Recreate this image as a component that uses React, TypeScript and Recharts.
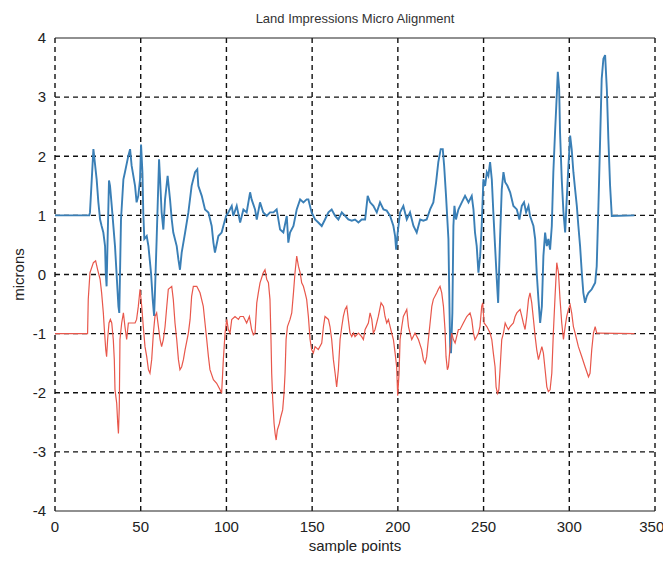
import { CartesianGrid, Label, Line, LineChart, ReferenceLine, XAxis, YAxis } from "recharts";

// sample positions and alignment offsets (microns) for the upper trace
const blueX = [
  0, 20, 20.4, 22.4, 24.3, 25.3, 26.3, 27.2, 28.2, 29.2, 29.6, 30.1, 30.7, 31.5, 32.1, 33.1, 35.0, 37.0, 37.5,
  38.5, 39.9, 40.8, 42.8, 43.8, 44.7, 46.7, 47.6, 48.6, 49.6, 50.2, 51.0, 51.5, 52.1, 53.5, 54.5, 56.0, 57.0,
  57.8, 58.3, 59.3, 60.7, 61.3, 62.2, 63.2, 64.2, 65.7, 67.1, 68.1, 69.0, 71.0, 72.0, 72.9, 73.9, 75.9, 77.8,
  79.7, 81.7, 83.0, 83.6, 85.6, 87.5, 89.5, 91.4, 92.4, 93.3, 95.3, 97.2, 98.2, 99.8, 101.1, 103.1, 104.0,
  106.0, 108.0, 109.9, 111.8, 113.8, 114.7, 116.7, 117.7, 119.6, 121.5, 123.5, 125.4, 127.4, 129.3, 131.3,
  133.2, 135.2, 136.1, 137.1, 139.1, 141.0, 143.0, 144.9, 146.8, 147.8, 149.7, 151.7, 153.6, 155.6, 157.5,
  159.5, 161.4, 163.4, 165.3, 167.3, 169.2, 171.1, 173.1, 175.0, 177.0, 178.9, 180.9, 182.4, 183.8, 185.7,
  187.7, 189.6, 191.6, 193.5, 195.5, 197.4, 198.4, 199.0, 199.9, 201.3, 203.2, 205.2, 207.1, 209.1, 211.0,
  213.0, 214.9, 216.8, 218.8, 220.7, 222.3, 223.6, 225.0, 226.2, 227.0, 228.1, 229.5, 230.1, 230.5, 231.0,
  231.8, 232.4, 233.0, 233.9, 235.3, 237.3, 239.2, 241.2, 243.1, 244.1, 245.0, 246.0, 247.0, 248.0, 248.9,
  249.9, 250.9, 251.9, 252.8, 253.8, 254.8, 255.7, 256.7, 257.7, 258.5, 259.6, 260.6, 261.6, 262.6, 263.9,
  265.5, 267.4, 269.4, 270.9, 272.3, 273.6, 274.8, 276.2, 277.1, 279.1, 280.1, 281.0, 282.0, 283.0, 284.0,
  284.9, 285.9, 286.9, 287.8, 288.8, 289.8, 290.7, 291.7, 292.7, 293.3, 294.1, 294.6, 295.6, 296.6, 297.6,
  298.5, 299.5, 300.5, 301.4, 302.4, 303.4, 304.4, 305.3, 306.3, 307.3, 308.2, 309.2, 310.2, 311.2, 313.1,
  315.1, 316.0, 317.0, 318.0, 318.9, 319.9, 320.9, 321.9, 322.8, 323.8, 324.8, 338,
];
const blueY = [
  1, 1, 1.05, 2.12, 1.61, 1.22, 0.93, 0.82, 0.71, 0.48, 0.03, -0.2, 0.6, 1.59, 1.5, 1.16, 0.48, -0.54, -0.65,
  0.93, 1.61, 1.73, 2.01, 2.12, 1.84, 1.5, 1.22, 1.33, 1.61, 2.2, 1.73, 1.05, 0.6, 0.65, 0.48, 0.03, -0.42,
  -0.7, -0.31, 0.6, 1.95, 1.61, 1.05, 0.76, 1.27, 1.67, 1.27, 0.93, 0.71, 0.48, 0.25, 0.08, 0.37, 0.71, 1.05,
  1.5, 1.73, 1.78, 1.5, 1.33, 1.1, 1.05, 0.82, 0.54, 0.37, 0.65, 0.71, 0.82, 0.99, 1.05, 1.16, 0.99,
  1.16, 0.88, 1.1, 1.05, 1.39, 1.27, 1.1, 0.93, 1.22, 1.05, 0.99, 1.05, 1.05, 1.1, 0.76,
  0.71, 0.99, 0.54, 0.71, 0.82, 1.1, 1.27, 1.22, 1.27, 1.27, 1.05, 0.93, 0.88, 0.82, 0.93,
  1.05, 1.1, 0.99, 0.93, 1.05, 0.99, 0.93, 0.91, 0.93, 0.88, 0.93, 0.93, 1.33, 1.22, 1.16,
  1.05, 1.22, 1.1, 1.08, 0.99, 0.82, 0.65, 0.42, 0.71, 1.05, 1.16, 0.93, 1.05, 0.82, 0.71,
  0.93, 0.91, 0.93, 1.1, 1.22, 1.56, 1.9, 2.12, 2.12, 1.84, 1.33, 0.6, -0.54, -1.22, -1.33,
  -0.65, 0.82, 1.16, 0.93, 1.1, 1.22, 1.33, 1.22, 1.33, 1.1, 0.71, 0.48, 0.03, 0.31, 0.82,
  1.61, 1.5, 1.73, 1.67, 1.9, 1.61, 1.05, 0.48, -0.08, -0.48, 0.6, 1.44, 1.73, 1.56, 1.5,
  1.39, 1.16, 1.1, 0.93, 1.16, 1.22, 1.05, 1.16, 0.99, 0.82, 0.6, 0.03, -0.42, -0.82, -0.54,
  0.31, 0.71, 0.48, 0.6, 0.42, 0.82, 1.73, 2.41, 3.03, 3.43, 3.14, 2.41, 1.61, 1.05, 0.71,
  1.27, 1.84, 2.35, 2.12, 1.73, 1.44, 1.16, 0.82, 0.48, 0.03, -0.31, -0.48, -0.37, -0.31, -0.25,
  -0.14, 0.14, 1.16, 2.29, 3.31, 3.65, 3.71, 3.14, 2.29, 1.5, 0.99, 1,
];

// sample positions and alignment offsets (microns) for the lower trace
const redX = [
  0, 19, 19.4, 20.4, 22.4, 23.7, 24.9, 26.3, 27.2, 28.2, 28.8, 29.6, 30.1, 30.7, 31.5, 32.3, 33.1, 34.0, 34.6,
  35.0, 36.0, 36.6, 37.0, 37.5, 37.9, 38.9, 39.9, 40.8, 41.8, 42.8, 44.7, 46.7, 47.6, 48.6, 49.6, 50.6, 51.5,
  52.5, 53.5, 54.5, 55.4, 56.4, 57.4, 58.3, 59.3, 60.3, 61.3, 62.2, 63.2, 64.2, 65.2, 66.1, 68.1, 69.0, 70.0,
  71.0, 72.0, 72.9, 73.9, 74.9, 75.9, 77.8, 78.8, 79.7, 80.7, 82.7, 84.6, 86.5, 87.5, 88.5, 89.5, 90.4, 92.4,
  94.3, 96.3, 97.2, 98.2, 99.2, 100.2, 101.1, 102.1, 103.1, 105.0, 107.0, 108.0, 109.9, 111.8, 113.4, 114.7,
  115.7, 116.7, 117.7, 118.6, 119.6, 121.5, 122.5, 123.5, 124.5, 125.4, 126.0, 126.4, 127.0, 127.8, 128.4,
  129.0, 129.7, 130.9, 131.7, 132.8, 133.6, 134.2, 134.8, 135.6, 137.1, 138.1, 139.1, 140.0, 141.0, 142.0,
  143.0, 143.9, 144.9, 145.9, 146.8, 147.8, 148.8, 149.7, 150.7, 151.7, 153.6, 155.6, 156.6, 157.5, 159.5,
  160.4, 161.4, 162.4, 163.4, 164.3, 165.3, 166.3, 167.3, 168.2, 169.2, 170.2, 171.1, 172.1, 173.1, 174.1,
  175.0, 177.0, 178.9, 179.9, 180.9, 182.8, 183.8, 184.8, 185.7, 186.7, 188.6, 190.2, 191.6, 192.5, 193.5,
  194.5, 195.5, 196.4, 197.4, 198.4, 199.3, 199.9, 200.7, 201.3, 202.3, 203.2, 204.2, 205.2, 206.2, 207.1,
  208.1, 210.0, 212.0, 213.9, 214.9, 215.9, 216.8, 217.8, 218.8, 219.8, 220.7, 222.7, 223.6, 224.6, 225.6,
  226.6, 227.5, 228.1, 228.9, 229.5, 230.5, 231.4, 232.4, 233.4, 234.3, 235.3, 236.3, 238.2, 240.2, 242.1,
  243.1, 244.1, 245.0, 246.0, 247.0, 247.9, 248.9, 249.5, 250.3, 251.9, 253.8, 254.8, 255.7, 256.7, 257.3,
  258.1, 258.9, 259.6, 260.6, 261.6, 262.6, 263.5, 264.5, 265.5, 267.4, 268.4, 269.4, 271.3, 272.3, 273.2,
  274.2, 275.2, 276.2, 277.1, 278.1, 279.1, 280.1, 281.0, 282.0, 283.0, 284.0, 284.9, 285.9, 286.9, 287.8,
  288.8, 289.8, 290.7, 291.7, 292.7, 293.7, 294.6, 295.6, 296.6, 297.6, 298.5, 299.5, 300.5, 301.4, 302.4,
  303.4, 305.3, 307.3, 309.2, 311.2, 312.1, 313.1, 314.1, 315.1, 316.0, 317.0, 338,
];
const redY = [
  -1, -1, -0.42, 0.03, 0.2, 0.23, 0.08, -0.08, -0.31, -0.65, -0.93, -1.27, -1.39, -1.1, -0.82, -0.76, -0.82, -1.1, -1.44,
  -1.95, -2.18, -2.52, -2.69, -2.24, -1.1, -0.82, -0.65, -0.88, -1.1, -0.82, -0.82, -0.82, -0.76, -0.54, -0.25, -0.54, -0.88,
  -1.22, -1.39, -1.61, -1.67, -1.44, -0.99, -0.71, -0.65, -0.88, -1.1, -1.22, -1.1, -0.88, -0.54, -0.25, -0.2, -0.42, -0.82,
  -1.1, -1.44, -1.61, -1.56, -1.44, -1.27, -0.99, -0.76, -0.37, -0.2, -0.2, -0.31, -0.54, -0.82, -1.1, -1.39, -1.61, -1.78,
  -1.84, -1.95, -2.01, -1.44, -0.99, -0.76, -0.93, -0.99, -0.76, -0.71, -0.76, -0.71, -0.71, -0.82, -0.71, -0.93,
  -1.02, -0.99, -0.48, -0.31, -0.14, 0.03, 0.08, -0.08, -0.14, -0.42, -1.1, -1.67, -2.12, -2.52, -2.69,
  -2.8, -2.63, -2.52, -2.41, -2.29, -2.01, -1.67, -1.1, -0.88, -0.76, -0.65, -0.31, 0.03, 0.31, 0.14,
  0.03, -0.14, -0.2, -0.31, -0.42, -0.71, -1.1, -1.27, -1.33, -1.22, -1.27, -1.16, -0.88, -0.71, -0.76,
  -0.88, -1.1, -1.44, -1.67, -1.9, -1.61, -1.1, -0.88, -0.71, -0.59, -0.54, -0.76, -0.99, -1.05, -0.99,
  -1.05, -0.99, -1.05, -1.1, -0.93, -0.82, -0.65, -0.76, -0.99, -0.93, -0.71, -0.48, -0.54, -0.71, -0.82,
  -0.76, -0.88, -0.99, -1.1, -1.33, -1.56, -2.05, -1.67, -1.1, -0.88, -0.71, -0.65, -0.59, -0.88, -0.99,
  -1.1, -0.99, -1.1, -1.27, -1.44, -1.5, -1.39, -1.1, -0.82, -0.54, -0.42, -0.31, -0.25, -0.2, -0.31,
  -0.54, -0.93, -1.39, -1.61, -1.56, -1.22, -0.99, -1.1, -1.16, -1.05, -0.93, -0.93, -0.82, -0.71, -0.65,
  -0.76, -0.99, -1.1, -1.05, -0.99, -0.88, -0.54, -0.48, -0.82, -0.88, -0.99, -1.1, -1.33, -1.56, -1.9,
  -2.01, -1.95, -1.61, -1.1, -0.99, -0.82, -0.88, -0.93, -0.88, -0.82, -0.71, -0.65, -0.59, -0.71, -0.82,
  -0.93, -0.71, -0.42, -0.31, -0.48, -0.76, -1.05, -1.27, -1.44, -1.33, -1.22, -1.33, -1.61, -1.9, -1.98,
  -1.95, -1.67, -0.99, -0.37, 0.2, 0.03, -0.42, -0.82, -1.1, -0.88, -0.71, -0.59, -0.51, -0.65, -0.88,
  -0.99, -1.22, -1.39, -1.56, -1.73, -1.67, -1.27, -0.99, -0.88, -0.99, -0.99, -1,
];

const xTicks = [0, 50, 100, 150, 200, 250, 300, 350];
const yTicks = [-4, -3, -2, -1, 0, 1, 2, 3, 4];

// dashed verticals run edge to edge; top and bottom edges are solid
const yGrid = yTicks.slice(1, -1);

const bluePoints = blueX.map((x, i) => ({ x, y: blueY[i] }));
const redPoints = redX.map((x, i) => ({ x, y: redY[i] }));

const FONT = "'Liberation Sans Narrow', 'Liberation Sans', Arial, sans-serif";
const tickStyle = { fontFamily: FONT, fontSize: 15, fill: "#222" };

export default function App() {
  return (
    <div style={{ position: "relative", width: 655, height: 545, background: "#fff" }}>
      <div
        style={{
          position: "absolute",
          top: 3,
          left: 47,
          width: 600,
          textAlign: "center",
          fontFamily: "'Liberation Sans', Arial, sans-serif",
          fontSize: 13,
          color: "#333",
        }}
      >
        Land Impressions Micro Alignment
      </div>
      <LineChart width={655} height={545} margin={{ top: 30, right: 8, bottom: 0, left: 0 }}>
        <CartesianGrid
          stroke="#111"
          strokeWidth={1.4}
          strokeDasharray="5 4"
          horizontalValues={yGrid}
          verticalValues={xTicks}
        />
        <XAxis
          type="number"
          dataKey="x"
          domain={[0, 350]}
          ticks={xTicks}
          allowDataOverflow
          height={42}
          tickLine={false}
          axisLine={{ stroke: "#222", strokeWidth: 1.2 }}
          tick={tickStyle}
          tickMargin={4}
        >
          <Label value="sample points" position="insideBottom" offset={2} style={{ fontFamily: FONT, fontSize: 15, fill: "#222" }} />
        </XAxis>
        <YAxis
          type="number"
          domain={[-4, 4]}
          ticks={yTicks}
          allowDataOverflow
          width={47}
          tickLine={false}
          axisLine={false}
          tick={tickStyle}
          tickMargin={3}
        >
          <Label value="microns" angle={-90} position="insideLeft" offset={11} style={{ fontFamily: FONT, fontSize: 15, fill: "#222", textAnchor: "middle" }} />
        </YAxis>
        <ReferenceLine y={4} stroke="#222" strokeWidth={1.2} />
        <Line
          data={bluePoints}
          dataKey="y"
          type="linear"
          stroke="#3a7fb6"
          strokeWidth={1.9}
          dot={false}
          isAnimationActive={false}
        />
        <Line
          data={redPoints}
          dataKey="y"
          type="linear"
          stroke="#e8574b"
          strokeWidth={1.2}
          dot={false}
          isAnimationActive={false}
        />
      </LineChart>
    </div>
  );
}
